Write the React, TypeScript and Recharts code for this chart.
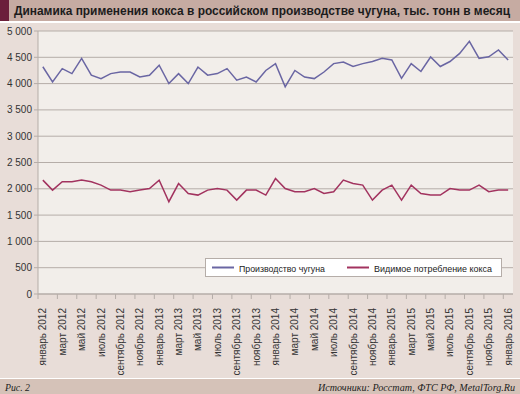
import React from 'react';
import { LineChart, Line, XAxis, YAxis, CartesianGrid, Legend } from 'recharts';

const months = [
  'январь 2012', 'февраль 2012', 'март 2012', 'апрель 2012', 'май 2012', 'июнь 2012',
  'июль 2012', 'август 2012', 'сентябрь 2012', 'октябрь 2012', 'ноябрь 2012', 'декабрь 2012',
  'январь 2013', 'февраль 2013', 'март 2013', 'апрель 2013', 'май 2013', 'июнь 2013',
  'июль 2013', 'август 2013', 'сентябрь 2013', 'октябрь 2013', 'ноябрь 2013', 'декабрь 2013',
  'январь 2014', 'февраль 2014', 'март 2014', 'апрель 2014', 'май 2014', 'июнь 2014',
  'июль 2014', 'август 2014', 'сентябрь 2014', 'октябрь 2014', 'ноябрь 2014', 'декабрь 2014',
  'январь 2015', 'февраль 2015', 'март 2015', 'апрель 2015', 'май 2015', 'июнь 2015',
  'июль 2015', 'август 2015', 'сентябрь 2015', 'октябрь 2015', 'ноябрь 2015', 'декабрь 2015',
  'январь 2016',
];

const pigIron = [
  4320, 4030, 4285, 4190, 4480, 4160, 4095, 4190, 4220, 4220, 4125, 4160,
  4350, 4000, 4190, 4000, 4315, 4160, 4190, 4285, 4065, 4125, 4030, 4250,
  4380, 3940, 4250, 4125, 4095, 4220, 4380, 4410, 4325, 4380, 4420, 4480,
  4450, 4100, 4380, 4230, 4505, 4325, 4420, 4575, 4805, 4480, 4510, 4640,
  4450,
];

const coke = [
  2165, 1975, 2135, 2135, 2165, 2135, 2070, 1975, 1975, 1945, 1975, 2005,
  2165, 1755, 2100, 1910, 1880, 1975, 2005, 1975, 1785, 1975, 1975, 1880,
  2195, 2005, 1945, 1945, 2005, 1910, 1945, 2165, 2100, 2070, 1785, 1975,
  2070, 1785, 2070, 1910, 1880, 1880, 2005, 1975, 1975, 2070, 1945, 1975,
  1975,
];

const yTicks = [0, 500, 1000, 1500, 2000, 2500, 3000, 3500, 4000, 4500, 5000];
const seriesNames = ['Производство чугуна', 'Видимое потребление кокса'];
const seriesColors = ['#6a66a3', '#a2335f'];

const titleText = 'Динамика применения кокса в российском производстве чугуна, тыс. тонн в месяц';
const figText = 'Рис. 2';
const sourceText = 'Источники: Росстат, ФТС РФ, MetalTorg.Ru';

const data = months.map((m, i) => ({ month: m, pig: pigIron[i], coke: coke[i] }));

const FONT = '"Liberation Sans", Arial, Helvetica, sans-serif';
const SERIF = '"Liberation Serif", "Times New Roman", serif';
const GRID = '#b5ada8';
const BAND = 475 / 49;

const fmt = (v: number) =>
  v >= 1000 ? `${Math.floor(v / 1000)} ${String(v % 1000).padStart(3, '0')}` : String(v);

const XTick = (props: any) => {
  const { x, y, payload } = props;
  return (
    <g>
      <line x1={x - BAND / 2} x2={x - BAND / 2} y1={y} y2={y + 5} stroke={GRID} />
      <text
        transform={`translate(${x},${y + 14}) rotate(-90)`}
        textAnchor="end"
        dy="0.35em"
        fontSize={10}
        fontFamily={FONT}
        fill="#333"
      >
        {payload.value}
      </text>
    </g>
  );
};

const LegendBox = () => (
  <svg width={297} height={19} style={{ display: 'block' }}>
    <rect x={0.5} y={0.5} width={296} height={18} fill="#ffffff" stroke={GRID} />
    <line x1={7} x2={29} y1={9.5} y2={9.5} stroke={seriesColors[0]} strokeWidth={2} />
    <text x={34} y={13.5} fontSize={9.5} fontFamily={FONT} fill="#222" textLength={86} lengthAdjust="spacingAndGlyphs">
      {seriesNames[0]}
    </text>
    <line x1={142} x2={164} y1={9.5} y2={9.5} stroke={seriesColors[1]} strokeWidth={2} />
    <text x={169} y={13.5} fontSize={9.5} fontFamily={FONT} fill="#222" textLength={118} lengthAdjust="spacingAndGlyphs">
      {seriesNames[1]}
    </text>
  </svg>
);

export default function App() {
  return (
    <div style={{ position: 'absolute', left: 0, top: 0, width: 520, height: 394, background: '#ffffff', overflow: 'hidden' }}>
      <svg width={520} height={21} style={{ position: 'absolute', left: 0, top: 0, display: 'block' }}>
        <rect x={0} y={0} width={520} height={21} fill="#c6aba2" />
        <rect x={0} y={0} width={9} height={21} fill="#6b1f3b" />
        <text
          x={14}
          y={15}
          fontSize={12}
          fontWeight="bold"
          fontFamily={FONT}
          fill="#1c1c1c"
          textLength={496}
          lengthAdjust="spacingAndGlyphs"
        >
          {titleText}
        </text>
      </svg>
      <div style={{ position: 'absolute', left: 0, top: 23, width: 520, height: 355, background: '#e8ddd8' }}>
        <LineChart width={520} height={355} data={data} margin={{ top: 8, right: 7, left: 0, bottom: 0 }}>
          <CartesianGrid vertical={false} fill="#f2eeea" stroke={GRID} />
          <XAxis
            dataKey="month"
            interval={1}
            padding={{ left: BAND / 2, right: BAND / 2 }}
            height={84}
            axisLine={{ stroke: GRID }}
            tickLine={false}
            tickSize={0}
            tickMargin={0}
            tick={<XTick />}
          />
          <YAxis
            width={38}
            domain={[0, 5000]}
            ticks={yTicks}
            tickFormatter={fmt}
            axisLine={{ stroke: GRID }}
            tickLine={{ stroke: GRID }}
            tickSize={4}
            tickMargin={2}
            tick={{ fontSize: 10, fontFamily: FONT, fill: '#333' }}
          />
          <YAxis
            yAxisId="right"
            orientation="right"
            width={0}
            domain={[0, 5000]}
            tick={false}
            tickLine={false}
            axisLine={{ stroke: GRID }}
          />
          <Legend
            layout="horizontal"
            verticalAlign="middle"
            align="center"
            content={<LegendBox />}
            wrapperStyle={{ position: 'absolute', left: 205, top: 235, width: 297, height: 19 }}
          />
          <Line
            type="linear"
            dataKey="pig"
            name={seriesNames[0]}
            stroke={seriesColors[0]}
            strokeWidth={1.5}
            dot={false}
            isAnimationActive={false}
          />
          <Line
            type="linear"
            dataKey="coke"
            name={seriesNames[1]}
            stroke={seriesColors[1]}
            strokeWidth={1.5}
            dot={false}
            isAnimationActive={false}
          />
        </LineChart>
      </div>
      <svg width={520} height={15} style={{ position: 'absolute', left: 0, top: 379, display: 'block' }}>
        <rect x={0} y={0} width={520} height={15} fill="#d5c2b8" />
        <text x={5} y={11.5} fontSize={10.5} fontStyle="italic" fontFamily={SERIF} fill="#222" textLength={25} lengthAdjust="spacingAndGlyphs">
          {figText}
        </text>
        <text x={318} y={11.5} fontSize={10} fontStyle="italic" fontFamily={SERIF} fill="#222" textLength={197} lengthAdjust="spacingAndGlyphs">
          {sourceText}
        </text>
      </svg>
    </div>
  );
}
